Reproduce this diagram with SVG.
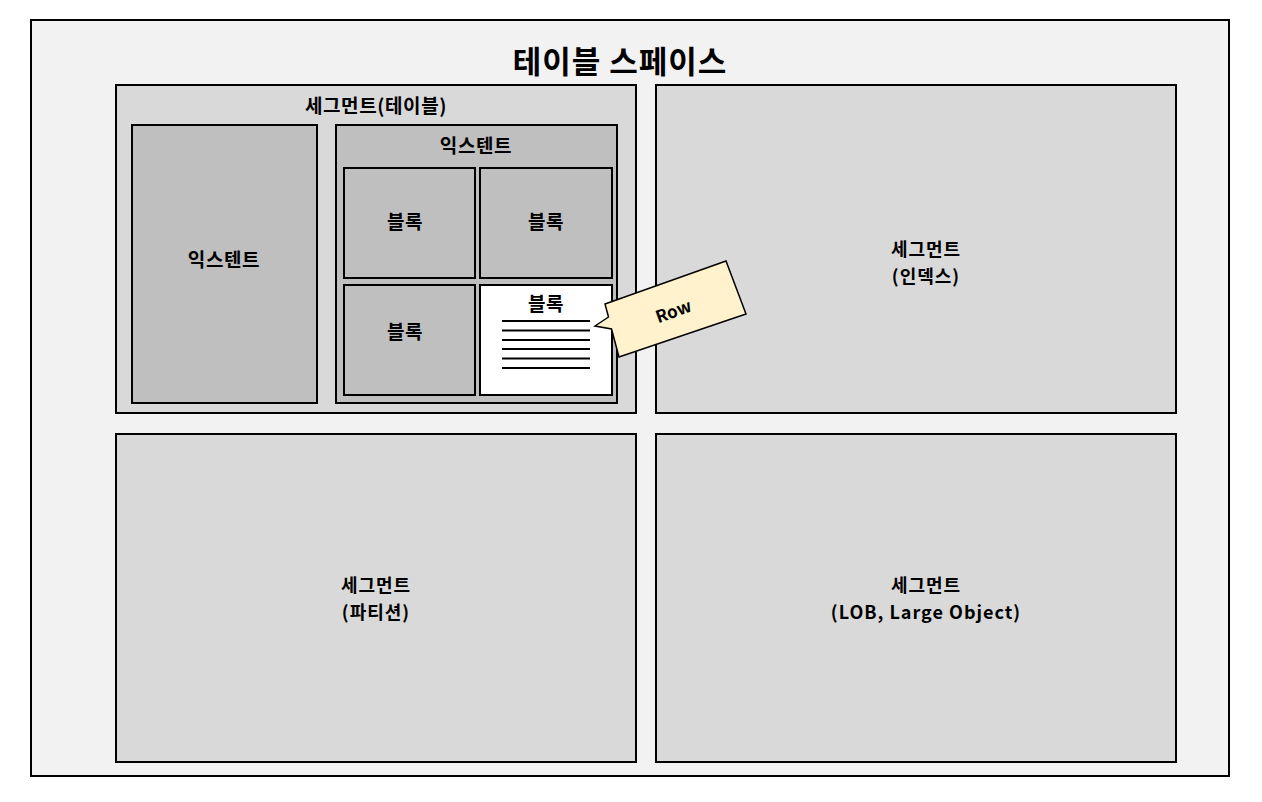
<svg xmlns="http://www.w3.org/2000/svg" width="1262" height="802" viewBox="0 0 1262 802">
<style>
text{font-family:"Noto Sans CJK KR","Noto Sans",sans-serif;font-weight:bold;fill:#000;text-anchor:middle;dominant-baseline:central}
.t{font-size:31px;letter-spacing:1px}
.m{font-size:19px;letter-spacing:0.6px}
.d{font-size:18px;letter-spacing:1px}
.b{stroke:#000;stroke-width:2}
.seg{fill:#d9d9d9}
.ext{fill:#bfbfbf}
.ln{stroke:#000;stroke-width:2}
</style>
<rect width="1262" height="802" fill="#fff"/>
<g id="tablespace">
<rect x="31" y="20" width="1198" height="756" fill="#f2f2f2" class="b"/>
<text x="620" y="59" class="t">테이블 스페이스</text>
</g>
<g id="seg-table">
<rect x="116" y="85" width="520" height="328" class="seg b"/>
<text x="376" y="104" class="m">세그먼트(테이블)</text>
</g>
<g id="extent1">
<rect x="132" y="125" width="185" height="278" class="ext b"/>
<text x="224" y="258" class="m">익스텐트</text>
</g>
<g id="extent2">
<rect x="336" y="125" width="281" height="278" class="ext b"/>
<text x="476" y="144" class="m">익스텐트</text>
</g>
<g id="block1">
<rect x="344" y="168" width="131" height="110" class="ext b"/>
<text x="405" y="220" class="m">블록</text>
</g>
<g id="block2">
<rect x="480" y="168" width="132" height="110" class="ext b"/>
<text x="546" y="220" class="m">블록</text>
</g>
<g id="block3">
<rect x="344" y="285" width="131" height="110" class="ext b"/>
<text x="405" y="330" class="m">블록</text>
</g>
<g id="block4">
<rect x="480" y="285" width="132" height="110" fill="#fff" class="b"/>
<text x="546" y="302" class="m">블록</text>
<line x1="502" y1="321" x2="590" y2="321" class="ln"/>
<line x1="502" y1="330.5" x2="590" y2="330.5" class="ln"/>
<line x1="502" y1="340" x2="590" y2="340" class="ln"/>
<line x1="502" y1="349" x2="590" y2="349" class="ln"/>
<line x1="502" y1="358.5" x2="590" y2="358.5" class="ln"/>
<line x1="502" y1="368" x2="590" y2="368" class="ln"/>
</g>
<g id="seg-index">
<rect x="656" y="85" width="520" height="328" class="seg b"/>
<text x="926" y="248" class="d">세그먼트</text>
<text x="926" y="275" class="d">(인덱스)</text>
</g>
<g id="seg-partition">
<rect x="116" y="434" width="520" height="328" class="seg b"/>
<text x="376" y="584" class="d">세그먼트</text>
<text x="376" y="611" class="d">(파티션)</text>
</g>
<g id="seg-lob">
<rect x="656" y="434" width="520" height="328" class="seg b"/>
<text x="926" y="584" class="d">세그먼트</text>
<text x="926" y="611" class="d">(LOB, Large Object)</text>
</g>
<g id="row-callout">
<polygon points="605,304 726,261 746,314 619,357 611.5,329 595,326 608.5,317" fill="#fff2cc" stroke="#000" stroke-width="1.5"/>
<text x="673" y="310" font-size="17" transform="rotate(-19.5 673 310)">Row</text>
</g>
<g id="connectors"></g>
</svg>
